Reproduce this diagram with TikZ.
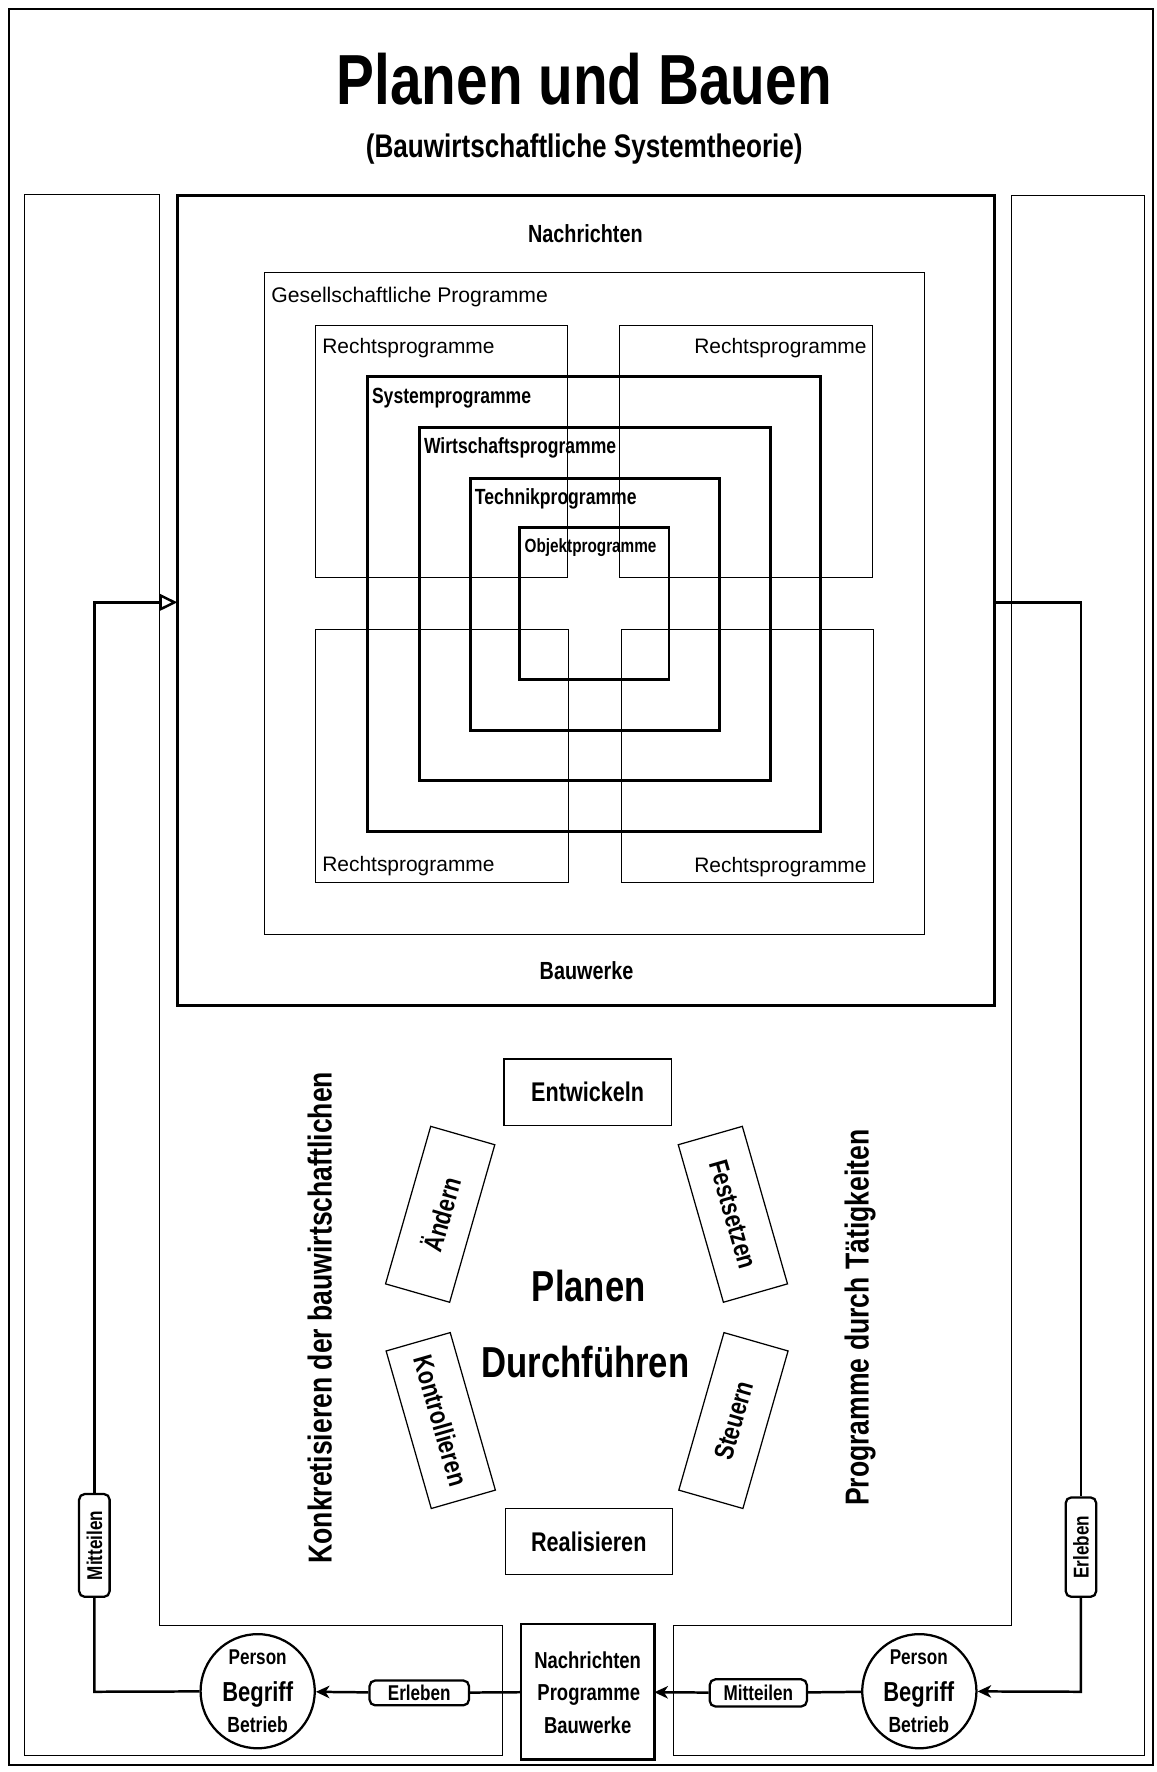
\documentclass[tikz,border=0pt]{standalone}
\usepackage{fontspec}
\setmainfont{Liberation Sans}
\newfontfamily\cndfont[FakeStretch=0.8]{Liberation Sans}
\usetikzlibrary{arrows.meta,fit,calc}
\newcommand\fsz[1]{\fontsize{#1}{#1}\selectfont}
\begin{document}
\begin{tikzpicture}[x=1bp,y=-1bp,
  tbox/.style={draw, line width=1bp, inner sep=0pt, outer sep=0pt},
  kbox/.style={draw, line width=2.6bp, inner sep=0pt, outer sep=0pt},
  bl/.style={font=\cndfont\bfseries\fsz{#1}, inner sep=0pt},
  rl/.style={font=\fsz{#1}, inner sep=0pt},
  rbox/.style={draw, line width=1.1bp, inner sep=0pt, minimum width=145bp, minimum height=59bp, font=\cndfont\bfseries\fsz{24}},
  pill/.style={draw, rounded corners=5bp, line width=2bp, inner sep=0pt, font=\cndfont\bfseries\fsz{19}},
  conn/.style={line width=2.2bp},
  arrowS/.style={-{Stealth[length=12bp,width=11bp,inset=3.5bp]}},
  arrowO/.style={-{Triangle[open,length=16bp,width=15bp,line width=2.2bp]}},
  pers/.style={draw, circle, line width=2bp, minimum size=101bp, inner sep=0pt}
]
\useasboundingbox (0,0) rectangle (1023,1568);
% outer frame
\draw[line width=2bp] (8,8) rectangle (1020,1562);
% title
\node[bl=63] (title) at (517,70) {Planen und Bauen};
\node[bl=29] (subtitle) at (517,132) {(Bauwirtschaftliche Systemtheorie)};
% side strips
\draw[line width=1bp] (22,172) -- (141,172) -- (141,1438) -- (445,1438) -- (445,1553) -- (22,1553) -- cycle;
\draw[line width=1bp] (895,173) -- (1013,173) -- (1013,1553) -- (596,1553) -- (596,1438) -- (895,1438) -- cycle;
% big box
\node[kbox, fit={(157,173) (880,890)}] (big) {};
\node[bl=22] (nachr) at (518,207) {Nachrichten};
\node[bl=22] (bauw) at (519,859) {Bauwerke};
% Gesellschaftliche Programme
\node[tbox, fit={(234,241) (818,827)}] (ges) {};
\node[rl=18.8, anchor=base west] (gesl) at (240,268) {Gesellschaftliche Programme};
% Rechtsprogramme
\node[tbox, fit={(279,288) (502,511)}] (r1) {};
\node[tbox, fit={(548,288) (772,511)}] (r2) {};
\node[tbox, fit={(279,557) (503,781)}] (r3) {};
\node[tbox, fit={(550,557) (773,781)}] (r4) {};
\node[rl=18.6, anchor=base west] (r1l) at (285,313) {Rechtsprogramme};
\node[rl=18.6, anchor=base east] (r2l) at (767,313) {Rechtsprogramme};
\node[rl=18.6, anchor=base west] (r3l) at (285,771) {Rechtsprogramme};
\node[rl=18.6, anchor=base east] (r4l) at (767,772) {Rechtsprogramme};
% nested thick boxes
\node[kbox, fit={(325,333) (726,736)}] (sys) {};
\node[kbox, fit={(371,378) (682,691)}] (wir) {};
\node[kbox, fit={(416,423) (637,646)}] (tec) {};
\node[kbox, fit={(460,467) (592,601)}] (obj) {};
\node[bl=19.5, anchor=base west] (sysl) at (329,357) {Systemprogramme};
\node[bl=19.5, anchor=base west] (wirl) at (375,401) {Wirtschaftsprogramme};
\node[bl=19.5, anchor=base west] (tecl) at (420,446) {Technikprogramme};
\node[bl=17, anchor=base west] (objl) at (464,489) {Objektprogramme};
% activity boxes
\node[rbox, minimum width=148bp, minimum height=59bp] (entw) at (520,966.5) {Entwickeln};
\node[rbox, minimum width=148bp, minimum height=58bp] (real) at (521,1364) {Realisieren};
\node[rbox, rotate=74] (aend) at (389.5,1074.5) {Ändern};
\node[rbox, rotate=-74] (fest) at (648.5,1074.5) {Festsetzen};
\node[rbox, rotate=-74] (kont) at (390,1257) {Kontrollieren};
\node[rbox, rotate=74] (steu) at (649,1257) {Steuern};
\node[bl=38.5] (planen) at (521,1138) {Planen};
\node[bl=38.5] (durch) at (518,1205) {Durchführen};
\node[bl=29.5, rotate=90] (konk) at (283,1166) {Konkretisieren der bauwirtschaftlichen};
\node[bl=29.5, rotate=90] (prog) at (761,1166) {Programme durch Tätigkeiten};
% bottom centre box
\node[kbox, fit={(461,1437) (579,1557)}] (ctr) {};
\node[bl=20.5, anchor=base] (ctr1) at (520,1476) {Nachrichten};
\node[bl=20.5, anchor=base] (ctr2) at (521,1505) {Programme};
\node[bl=20.5, anchor=base] (ctr3) at (520,1534) {Bauwerke};
% persons
\node[pers] (cL) at (228,1496.5) {};
\node[pers] (cR) at (813.5,1496.5) {};
\node[bl=19, anchor=base] (cL1) at (228,1473) {Person};
\node[bl=24.4, anchor=base] (cL2) at (228,1506) {Begriff};
\node[bl=19.5, anchor=base] (cL3) at (228,1533) {Betrieb};
\node[bl=19, anchor=base] (cR1) at (813,1473) {Person};
\node[bl=24.4, anchor=base] (cR2) at (813,1506) {Begriff};
\node[bl=19.5, anchor=base] (cR3) at (813,1533) {Betrieb};
% pills
\node[pill, minimum width=88bp, minimum height=22bp] (erlB) at (371,1498) {Erleben};
\node[pill, minimum width=86bp, minimum height=24bp] (mitB) at (671,1498) {Mitteilen};
\node[pill, rotate=90, minimum width=91bp, minimum height=27bp] (mitV) at (83.5,1367.5) {Mitteilen};
\node[pill, rotate=90, minimum width=88bp, minimum height=27bp] (erlV) at (956.5,1369) {Erleben};
% connectors
\coordinate (lA) at (83.5,1497);
\coordinate (lB) at (83.5,533);
\coordinate (rA) at (956.5,533);
\coordinate (rB) at (956.5,1497);
\draw[conn] (cL) -- (lA) -- (mitV);
\draw[conn, arrowO] (mitV) -- (lB) -- (big.west |- lB);
\draw[conn] (big.east |- rA) -- (rA) -- (erlV);
\draw[conn, arrowS] (erlV) -- (rB) -- (cR);
\draw[conn] (ctr) -- (erlB);
\draw[conn, arrowS] (erlB) -- (cL);
\draw[conn] (cR) -- (mitB);
\draw[conn, arrowS] (mitB) -- (ctr);
\end{tikzpicture}
\end{document}
